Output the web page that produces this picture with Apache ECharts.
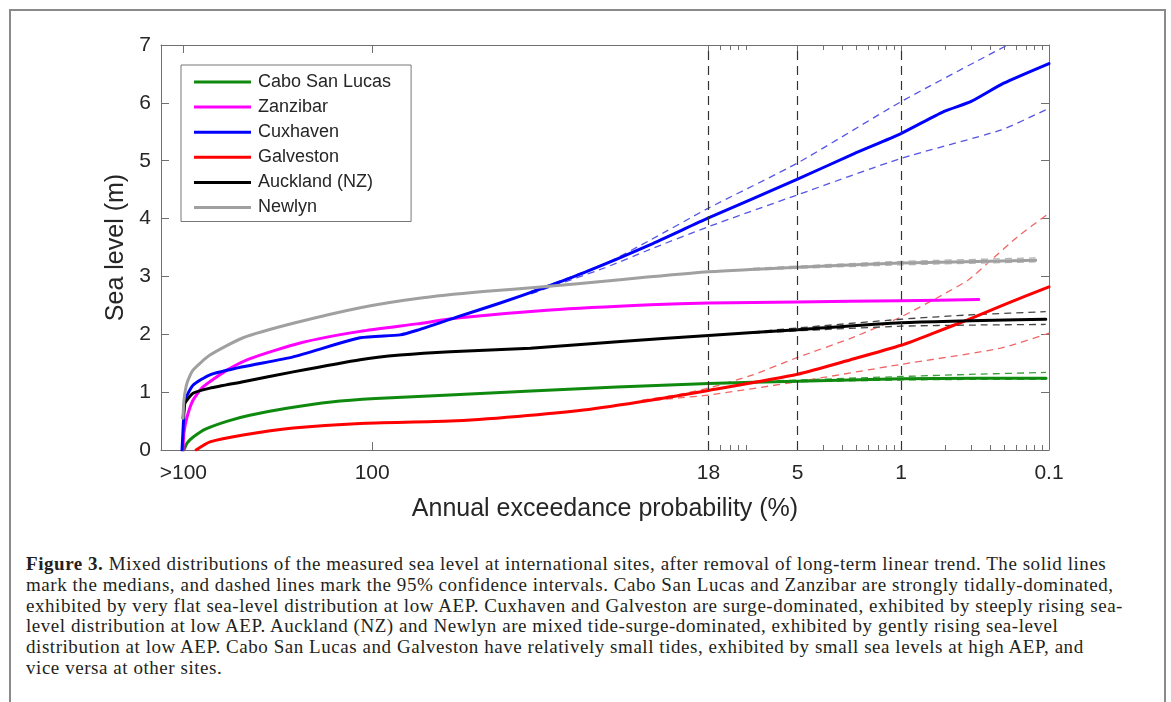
<!DOCTYPE html>
<html><head><meta charset="utf-8">
<script src="https://cdn.jsdelivr.net/npm/echarts@6/dist/echarts.min.js"></script>
<style>
html,body{margin:0;padding:0;background:#fff;overflow:hidden;}
#frame{position:absolute;left:9px;top:9px;width:1153px;height:720px;border:2px solid #8a8a8a;border-bottom:none;}
#chart{position:absolute;left:0;top:0;width:1171px;height:540px;}
#cap{position:absolute;left:26px;top:554px;font-family:"Liberation Serif","Times New Roman",serif;font-size:19px;letter-spacing:0.55px;line-height:20.8px;color:#231f20;white-space:nowrap;}
</style></head><body>
<div id="frame"></div>
<div id="chart"></div>
<div id="cap"><b>Figure 3.</b> Mixed distributions of the measured sea level at international sites, after removal of long-term linear trend. The solid lines<br>mark the medians, and dashed lines mark the 95% confidence intervals. Cabo San Lucas and Zanzibar are strongly tidally-dominated,<br>exhibited by very flat sea-level distribution at low AEP. Cuxhaven and Galveston are surge-dominated, exhibited by steeply rising sea-<br>level distribution at low AEP. Auckland (NZ) and Newlyn are mixed tide-surge-dominated, exhibited by gently rising sea-level<br>distribution at low AEP. Cabo San Lucas and Galveston have relatively small tides, exhibited by small sea levels at high AEP, and<br>vice versa at other sites.</div>
<script>
// x values: log10 of return period (years); y values: sea level (m)
const xTickValues = [-2.849, -1.573, 0.699, 1.301, 2, 3];
const xTickLabels = ['>100', '100', '18', '5', '1', '0.1'];
const minorReturnPeriods = [6, 7, 8, 9, 30, 40, 50, 60, 70, 80, 90, 200, 300, 400, 500, 600, 700, 800, 900];
const dashedReturnPeriods = [5, 20, 100];
const yTicks = [0, 1, 2, 3, 4, 5, 6, 7];

const siteNames = ['Cabo San Lucas', 'Zanzibar', 'Cuxhaven', 'Galveston', 'Auckland (NZ)', 'Newlyn'];

const caboMedian = [[-2.845,0.0],[-2.824,0.12],[-2.784,0.22],[-2.70,0.36],[-2.55,0.50],[-2.40,0.60],[-2.15,0.72],[-1.85,0.83],[-1.55,0.89],[-1.05,0.95],[-0.50,1.02],[0.08,1.09],[0.70,1.15],[1.30,1.19],[2.0,1.23],[2.5,1.24],[2.98,1.24]];
const caboUpper = [[1.0,1.18],[1.3,1.21],[2.0,1.27],[2.5,1.31],[2.98,1.34]];
const caboLower = [[1.0,1.17],[1.3,1.18],[2.0,1.21],[2.5,1.22],[2.98,1.22]];

const zanzibarMedian = [[-2.851,0.0],[-2.845,0.3],[-2.824,0.57],[-2.784,0.86],[-2.716,1.09],[-2.554,1.38],[-2.398,1.58],[-2.060,1.85],[-1.654,2.05],[-1.269,2.18],[-0.998,2.28],[-0.370,2.42],[0.307,2.51],[0.699,2.54],[1.301,2.56],[2.0,2.58],[2.525,2.60]];

const cuxhavenMedian = [[-2.858,0.0],[-2.851,0.35],[-2.845,0.65],[-2.838,0.86],[-2.784,1.12],[-2.669,1.30],[-2.445,1.44],[-2.107,1.61],[-1.654,1.94],[-1.384,1.99],[-1.269,2.07],[-0.998,2.30],[-0.708,2.54],[-0.417,2.80],[-0.146,3.06],[0.307,3.55],[0.699,4.01],[1.301,4.68],[1.680,5.12],[2.0,5.47],[2.288,5.85],[2.471,6.02],[2.694,6.34],[3.0,6.68]];
const cuxhavenUpper = [[-0.5,2.74],[0.0,3.22],[0.307,3.63],[0.699,4.18],[1.301,4.96],[2.0,6.02],[2.72,7.0]];
const cuxhavenLower = [[-0.5,2.70],[0.0,3.15],[0.307,3.47],[0.699,3.86],[1.301,4.41],[2.0,5.04],[2.674,5.53],[2.978,5.88]];

const galvestonMedian = [[-2.763,0.0],[-2.669,0.14],[-2.445,0.26],[-2.107,0.38],[-1.654,0.46],[-1.046,0.50],[-0.593,0.58],[-0.146,0.69],[0.307,0.86],[0.699,1.03],[1.301,1.31],[1.659,1.56],[2.0,1.81],[2.220,2.02],[2.450,2.25],[2.694,2.51],[3.0,2.82]];
const galvestonUpper = [[0.25,0.86],[0.5,0.96],[0.699,1.07],[1.0,1.30],[1.301,1.60],[1.659,1.93],[2.0,2.30],[2.45,2.93],[2.586,3.23],[2.789,3.69],[3.0,4.09]];
const galvestonLower = [[0.25,0.84],[0.5,0.90],[0.699,0.95],[1.301,1.18],[2.0,1.48],[2.674,1.76],[3.0,2.02]];

const aucklandMedian = [[-2.851,0.55],[-2.845,0.70],[-2.838,0.81],[-2.784,0.98],[-2.669,1.07],[-2.445,1.18],[-2.107,1.35],[-1.654,1.56],[-1.384,1.64],[-1.046,1.70],[-0.505,1.76],[0.084,1.87],[0.699,1.98],[1.301,2.08],[2.0,2.20],[2.978,2.26]];
const aucklandUpper = [[1.0,2.04],[1.301,2.11],[2.0,2.26],[2.5,2.34],[2.978,2.39]];
const aucklandLower = [[1.0,2.02],[1.301,2.06],[2.0,2.14],[2.5,2.16],[2.978,2.17]];

const newlynMedian = [[-2.851,0.55],[-2.845,0.86],[-2.824,1.16],[-2.784,1.38],[-2.669,1.64],[-2.445,1.94],[-2.107,2.19],[-1.654,2.46],[-1.269,2.62],[-0.823,2.74],[-0.417,2.82],[0.084,2.94],[0.699,3.08],[1.301,3.16],[2.0,3.23],[2.910,3.28]];
const newlynUpper = [[1.0,3.14],[1.301,3.18],[2.0,3.26],[2.91,3.32]];
const newlynLower = [[1.0,3.11],[1.301,3.14],[2.0,3.20],[2.91,3.25]];

const medianColors = ['#0f8a0f', '#ff00ff', '#0000ff', '#ff0000', '#000000', '#a0a0a0'];
const ciColors = ['#3a9e3a', '#ff66ff', '#5555e6', '#f06666', '#444444', '#b4b4b4'];

const medians = [caboMedian, zanzibarMedian, cuxhavenMedian, galvestonMedian, aucklandMedian, newlynMedian];
const cis = [[caboUpper, caboLower], [], [cuxhavenUpper, cuxhavenLower], [galvestonUpper, galvestonLower], [aucklandUpper, aucklandLower], [newlynUpper, newlynLower]];

const minorTickValues = minorReturnPeriods.map(Math.log10);
const dashedX = dashedReturnPeriods.map(Math.log10);

const axisColor = '#707070';
const textColor = '#262626';
const sans = '"Liberation Sans", Arial, sans-serif';

function labelFor(v) {
  let best = 0, d = Infinity;
  xTickValues.forEach((t, i) => { const dd = Math.abs(t - v); if (dd < d) { d = dd; best = i; } });
  return xTickLabels[best];
}

const series = [];
cis.forEach((pair, i) => {
  pair.forEach(data => {
    series.push({
      type: 'line', name: siteNames[i] + ' CI', data: data, showSymbol: false, symbol: 'none',
      smooth: 0.2, z: 2, silent: true, color: ciColors[i],
      lineStyle: { color: ciColors[i], width: 1.3, type: [7, 5] }
    });
  });
});
medians.forEach((data, i) => {
  series.push({
    type: 'line', name: siteNames[i], data: data, showSymbol: false, symbol: 'none',
    smooth: 0.2, z: 3, silent: true, color: medianColors[i],
    lineStyle: { color: medianColors[i], width: 3, join: 'round', cap: 'round' }
  });
});
series.push({
  type: 'line', name: 'guides', data: [], silent: true, z: 1,
  markLine: {
    silent: true, symbol: ['none', 'none'], label: { show: false },
    lineStyle: { color: '#333', width: 1.2, type: [9, 6] },
    data: dashedX.map(x => ({ xAxis: x }))
  }
});

const baseX = {
  type: 'value', min: -3, max: 3, splitLine: { show: false }
};

const option = {
  animation: false,
  backgroundColor: 'transparent',
  grid: { left: 161, top: 45, right: 122, bottom: 90, containLabel: false, outerBoundsMode: 'none' },
  legend: {
    orient: 'vertical', left: 181, top: 65, data: siteNames, icon: 'rect',
    itemWidth: 57, itemHeight: 3, itemGap: 5.1, padding: [7, 20, 4, 13],
    borderColor: '#777', borderWidth: 1, backgroundColor: '#fff', selectedMode: false,
    textStyle: { fontSize: 18, fontFamily: sans, color: textColor, lineHeight: 20, padding: [0, 0, 0, 2] }
  },
  xAxis: [
    Object.assign({}, baseX, {
      position: 'bottom',
      axisLine: { show: true, onZero: false, lineStyle: { color: axisColor, width: 1 } },
      axisTick: { show: true, inside: true, length: 8, customValues: xTickValues, lineStyle: { color: axisColor } },
      axisLabel: { show: true, customValues: xTickValues, formatter: labelFor, fontSize: 21, fontFamily: sans, color: textColor, margin: 13 },
      name: 'Annual exceedance probability (%)', nameLocation: 'middle', nameGap: 47,
      nameTextStyle: { fontSize: 25, fontFamily: sans, color: textColor }
    }),
    Object.assign({}, baseX, {
      position: 'top',
      axisLine: { show: true, onZero: false, lineStyle: { color: axisColor, width: 1 } },
      axisTick: { show: true, inside: true, length: 8, customValues: xTickValues, lineStyle: { color: axisColor } },
      axisLabel: { show: false }
    }),
    Object.assign({}, baseX, {
      position: 'bottom',
      axisLine: { show: false, onZero: false },
      axisTick: { show: true, inside: true, length: 5, customValues: minorTickValues, lineStyle: { color: axisColor } },
      axisLabel: { show: false }
    }),
    Object.assign({}, baseX, {
      position: 'top',
      axisLine: { show: false, onZero: false },
      axisTick: { show: true, inside: true, length: 5, customValues: minorTickValues, lineStyle: { color: axisColor } },
      axisLabel: { show: false }
    })
  ],
  yAxis: [
    {
      type: 'value', min: 0, max: 7, interval: 1, position: 'left', splitLine: { show: false },
      axisLine: { show: true, onZero: false, lineStyle: { color: axisColor, width: 1 } },
      axisTick: { show: true, inside: true, length: 8, lineStyle: { color: axisColor } },
      axisLabel: { fontSize: 21, fontFamily: sans, color: textColor, margin: 10, customValues: yTicks },
      name: 'Sea level (m)', nameLocation: 'middle', nameGap: 30,
      nameTextStyle: { fontSize: 25, fontFamily: sans, color: textColor }
    },
    {
      type: 'value', min: 0, max: 7, interval: 1, position: 'right', splitLine: { show: false },
      axisLine: { show: true, onZero: false, lineStyle: { color: axisColor, width: 1 } },
      axisTick: { show: true, inside: true, length: 8, lineStyle: { color: axisColor } },
      axisLabel: { show: false }
    }
  ],
  series: series
};

const chart = echarts.init(document.getElementById('chart'), null, { renderer: 'canvas' });
chart.setOption(option);
</script>
</body></html>
